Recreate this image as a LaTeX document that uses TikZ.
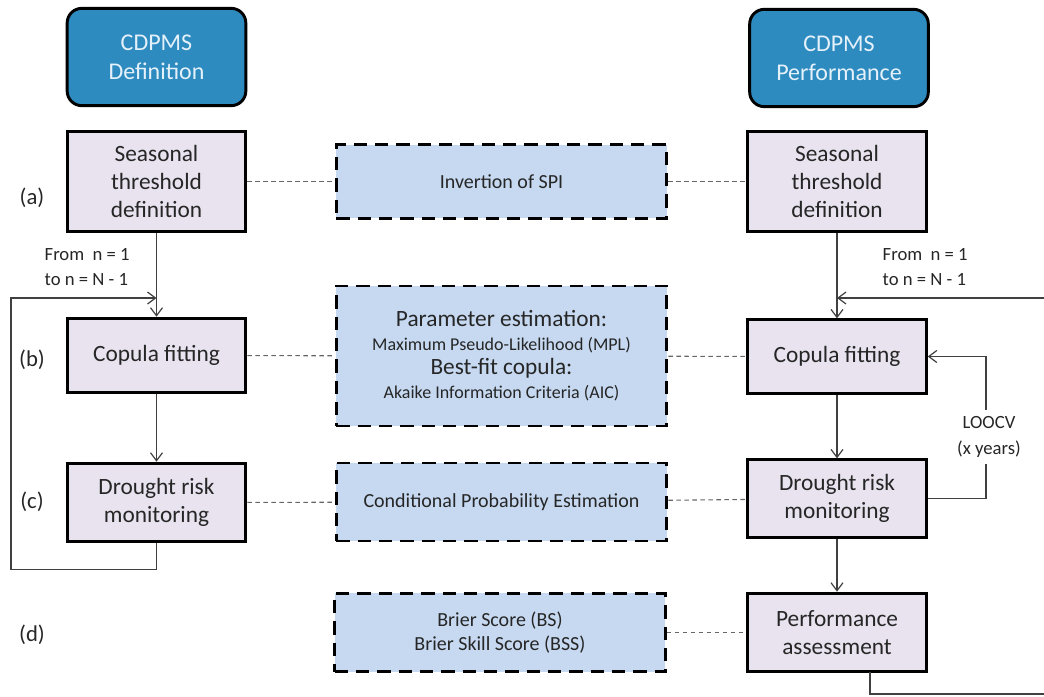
\documentclass[tikz,border=0pt]{standalone}
\usepackage{fontspec}
\setmainfont{Carlito}
\usetikzlibrary{arrows.meta}

\definecolor{headblue}{HTML}{2E8BC0}
\definecolor{headtext}{HTML}{E4F1FA}
\definecolor{stepfill}{HTML}{E8E3EF}
\definecolor{methfill}{HTML}{C6D9F1}
\definecolor{txt}{HTML}{262626}
\definecolor{wire}{HTML}{404040}

\tikzset{
  headbox/.style={draw=black, line width=2.2pt, fill=headblue, rounded corners=11pt,
    minimum width=134pt, minimum height=73pt, align=center, text=headtext,
    font=\fontsize{18}{21.5}\selectfont},
  stepbox/.style={draw=black, line width=2.2pt, fill=stepfill, minimum width=134pt,
    align=center, text=txt, font=\fontsize{17.5}{21}\selectfont},
  methbox/.style={draw=black, line width=2.2pt, dash pattern=on 10pt off 6pt, fill=methfill,
    minimum width=248pt, align=center, text=txt, font=\fontsize{15}{18}\selectfont},
  link/.style={draw=gray!80!black, line width=0.8pt, dash pattern=on 3.5pt off 2.5pt},
  arr/.style={draw=wire, line width=0.9pt, -{Straight Barb[length=6pt,width=9pt]}},
  note/.style={text=txt, align=left, font=\fontsize{14}{19}\selectfont},
  tag/.style={text=txt, font=\fontsize{17}{20}\selectfont}
}

\begin{document}
\begin{tikzpicture}[x=0.75pt,y=-0.75pt]
\useasboundingbox (0,0) rectangle (1044,696);

% headers
\node[headbox] (hdef) at (156.5,57) {CDPMS\\Definition};
\node[headbox] (hperf) at (839,58) {CDPMS\\Performance};

% left column
\node[stepbox, minimum height=75.5pt] (sL) at (156.5,181.5) {Seasonal\\threshold\\definition};
\node[stepbox, minimum height=56pt] (cL) at (156.5,355.5) {Copula fitting};
\node[stepbox, minimum height=59pt] (dL) at (156.5,502.5) {Drought risk\\monitoring};

% right column
\node[stepbox, minimum height=75.5pt] (sR) at (837,181.5) {Seasonal\\threshold\\definition};
\node[stepbox, minimum height=55pt] (cR) at (837,356.5) {Copula fitting};
\node[stepbox, minimum height=58pt] (dR) at (837,498.5) {Drought risk\\monitoring};
\node[stepbox, minimum height=59pt] (pR) at (837,632.5) {Performance\\assessment};

% methods
\node[methbox, minimum height=55pt] (mInv) at (501.5,181.5) {Invertion of SPI};
\node[methbox, minimum height=105pt] (mPar) at (501.5,356) {%
  {\fontsize{17.5}{19}\selectfont Parameter estimation:}\\
  {\fontsize{13.5}{19}\selectfont Maximum Pseudo-Likelihood (MPL)}\\
  {\fontsize{17.5}{19}\selectfont Best-fit copula:}\\
  {\fontsize{13.5}{19}\selectfont Akaike Information Criteria (AIC)}};
\node[methbox, minimum height=58.5pt] (mCond) at (501.5,502) {Conditional Probability Estimation};
\node[methbox, minimum height=59pt] (mBrier) at (500,632.5) {Brier Score (BS)\\Brier Skill Score (BSS)};

% row tags
\node[tag] (ta) at (32,198) {(a)};
\node[tag] (tb) at (32,360) {(b)};
\node[tag] (tc) at (32,502) {(c)};
\node[tag] (td) at (32,635) {(d)};

% dashed links
\draw[link] (sL) -- (mInv) -- (sR);
\draw[link] (cL) -- (mPar) -- (cR);
\draw[link] (dL) -- (mCond) -- (dR);
\draw[link] (mBrier) -- (pR);

% left flow
\coordinate (jL) at (156.5,298);
\draw[arr] (sL) -- (cL);
\draw[arr] (cL) -- (dL);
\draw[arr] (dL.south) -- ++(0,26) -| (11,298) -- (jL);
\node[note, anchor=west] (nL) at (40,267) {From\ \ n = 1\\to n = N - 1};

% right flow
\coordinate (jR) at (837,298);
\draw[arr] (sR) -- (cR);
\draw[arr] (cR) -- (dR);
\draw[arr] (dR) -- (pR);
\node[note, anchor=west] (nR) at (878,267) {From\ \ n = 1\\to n = N - 1};
\begin{scope}
\clip (0,0) rectangle (1044,696);
\draw[arr] (870,672) -- (870,694) -- (1060,694) -- (1060,298) -- (jR);
\end{scope}

% LOOCV loop
\draw[arr] (dR.east) -- (986,498.5) -- (986,356.5) -- (cR.east);
\node[note, align=center, fill=white, inner ysep=5pt] (loo) at (989,437) {LOOCV\\(x years)};

\end{tikzpicture}
\end{document}
